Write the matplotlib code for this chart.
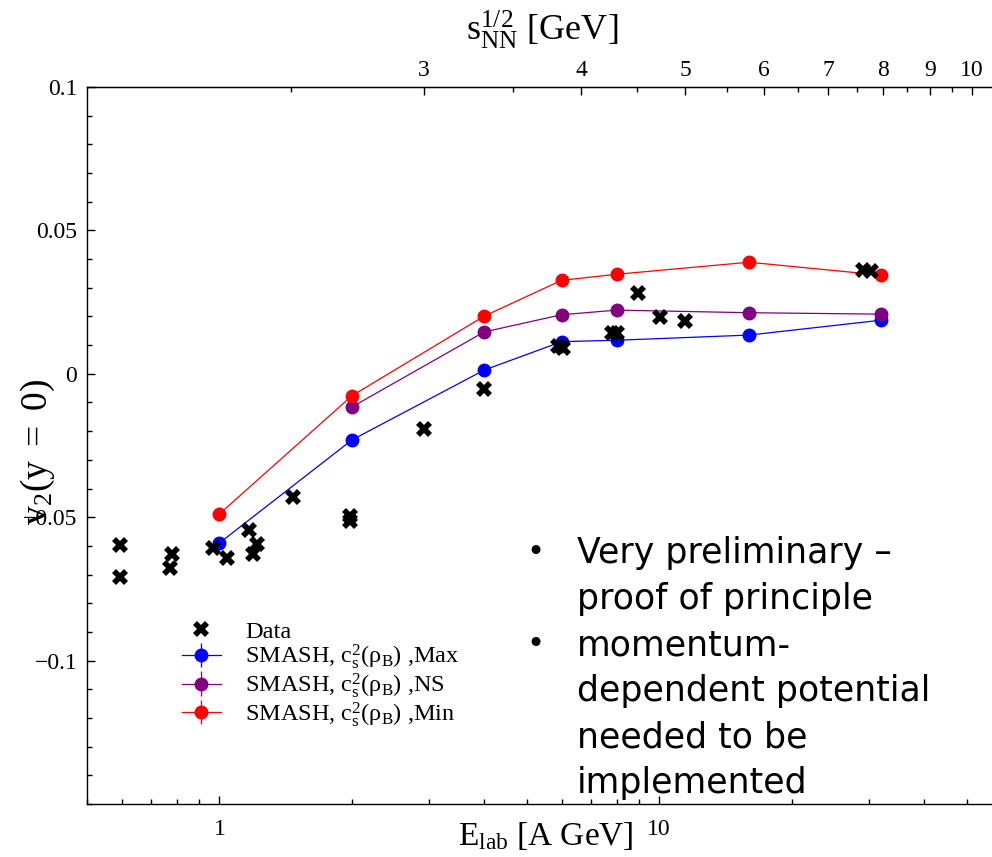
"""v2 at midrapidity vs beam energy: SMASH c_s^2 variants against data."""

import matplotlib

matplotlib.use("Agg")

import matplotlib.pyplot as plt
import numpy as np
from matplotlib.ticker import FixedLocator, NullFormatter

plt.rcParams["font.family"] = ["Liberation Serif", "DejaVu Serif"]
plt.rcParams["mathtext.fontset"] = "custom"
plt.rcParams["mathtext.rm"] = "Liberation Serif"
plt.rcParams["mathtext.it"] = "Liberation Serif:italic"
plt.rcParams["axes.unicode_minus"] = True

M_N = 0.938  # nucleon mass [GeV]

# measured data
data_elab = [0.593, 0.593, 0.781, 0.774, 0.967, 1.04, 1.166, 1.218, 1.19, 1.468,
             1.985, 1.985, 2.913, 4.0, 5.9, 6.05, 7.81, 8.0, 8.93, 10.05, 11.46,
             29.0, 30.3]
data_v2 = [-0.0598, -0.0708, -0.0629, -0.0676, -0.0607, -0.0642, -0.0545, -0.0595,
           -0.0630, -0.0429, -0.0497, -0.0512, -0.0191, -0.0053, 0.0097, 0.0091,
           0.0144, 0.0141, 0.0283, 0.0197, 0.0184, 0.0361, 0.0357]

# SMASH runs
max_elab = [1, 2, 4, 6, 8, 16, 32]
max_v2 = [-0.0590, -0.0231, 0.0013, 0.0112, 0.0117, 0.0135, 0.0187]
max_err = [0.0015, 0.0008, 0.0008, 0.0008, 0.0008, 0.0008, 0.0008]

ns_elab = [2, 4, 6, 8, 16, 32]
ns_v2 = [-0.0116, 0.0146, 0.0206, 0.0222, 0.0213, 0.0208]
ns_err = [0.0008, 0.0008, 0.0008, 0.0008, 0.0008, 0.0008]

min_elab = [1, 2, 4, 6, 8, 16, 32]
min_v2 = [-0.0489, -0.0077, 0.0201, 0.0326, 0.0347, 0.0389, 0.0344]
min_err = [0.0025, 0.0008, 0.0008, 0.0008, 0.0008, 0.0008, 0.0008]

y_ticks = [-0.1, -0.05, 0, 0.05, 0.1]
y_ticklabels = ["\u22120.1", "\u22120.05", "0", "0.05", "0.1"]
sqrt_s_ticks = [3, 4, 5, 6, 7, 8, 9, 10]
sqrt_s_minor = [2.5, 3.5, 4.5, 5.5, 6.5, 7.5, 8.5, 9.5]

bullet_lines = [
    ("Very preliminary \u2013", True),
    ("proof of principle", False),
    ("momentum-", True),
    ("dependent potential", False),
    ("needed to be", False),
    ("implemented", False),
]


def elab_to_sqrts(e):
    e = np.asarray(e, dtype=float)
    return np.sqrt(2 * M_N * (np.maximum(e, 1e-9) + 2 * M_N))


def sqrts_to_elab(s):
    s = np.asarray(s, dtype=float)
    return np.maximum(s**2 / (2 * M_N) - 2 * M_N, 1e-9)


W, H = 992, 857
fig = plt.figure(figsize=(W / 100, H / 100), dpi=100)
ax = fig.add_axes([87 / W, (H - 804) / H, 1 - 87 / W, (804 - 87) / H])

ax.set_xscale("log")
ax.set_xlim(0.5, 57.1)
ax.set_ylim(-0.15, 0.1)

series = [
    (max_elab, max_v2, max_err, "#0000ff", "Max"),
    (ns_elab, ns_v2, ns_err, "#800080", "NS"),
    (min_elab, min_v2, min_err, "#ff0000", "Min"),
]
handles = []
for xs, ys, errs, col, tag in series:
    h = ax.errorbar(xs, ys, yerr=errs, fmt="o-", color=col, ms=9, lw=0.9,
                    elinewidth=0.9, capsize=0, zorder=3,
                    label=r"SMASH, $\mathregular{c_s^2(ρ_B)}$ ," + tag)
    handles.append(h)

hd = ax.plot(data_elab, data_v2, "X", color="black", ms=11, mew=0,
             zorder=4, label="Data")[0]

ax.spines["right"].set_visible(False)
for sp in ("left", "bottom", "top"):
    ax.spines[sp].set_linewidth(1.0)

ax.set_yticks(y_ticks)
ax.set_yticklabels(y_ticklabels)
ax.yaxis.set_minor_locator(FixedLocator(np.arange(-0.15, 0.1001, 0.01)))
ax.set_xticks([1, 10])
ax.set_xticklabels(["1", "10"])
ax.xaxis.set_minor_formatter(NullFormatter())
ax.tick_params(which="both", direction="in", top=False, right=False,
               labelsize=17, width=1.0)
ax.tick_params(which="major", length=6)
ax.tick_params(which="minor", length=3.5)
ax.tick_params(axis="y", pad=7)
ax.tick_params(axis="x", pad=11)

sec = ax.secondary_xaxis("top", functions=(elab_to_sqrts, sqrts_to_elab))
sec.xaxis.set_major_locator(FixedLocator(sqrt_s_ticks))
sec.xaxis.set_minor_locator(FixedLocator(sqrt_s_minor))
sec.xaxis.set_minor_formatter(NullFormatter())
sec.set_xticklabels([str(t) for t in sqrt_s_ticks])
sec.tick_params(which="both", direction="in", labelsize=17, width=1.0, pad=4)
sec.tick_params(which="major", length=6)
sec.tick_params(which="minor", length=3.5)

fig.text(542 / W, 1 - 30 / H, r"$\mathregular{s_{NN}^{1/2}}$ [GeV]",
         fontsize=26, ha="center", va="center")
fig.text(546 / W, 1 - 836 / H, r"$\mathregular{E_{lab}}$ [A GeV]",
         fontsize=24, ha="center", va="center")
fig.text(38 / W, 1 - 452 / H, r"$\mathregular{v_2(y\ =\ 0)}$",
         fontsize=27, ha="center", va="center", rotation=90)

ax.legend([hd] + handles,
          ["Data"] + [h.get_label() for h in handles],
          loc="upper left", bbox_to_anchor=(172 / W, 1 - 611 / H),
          bbox_transform=fig.transFigure, frameon=False, fontsize=17.5,
          handlelength=1.6, handletextpad=1.0, labelspacing=0.0,
          borderaxespad=0)

baseline = 563
for text, bullet in bullet_lines:
    if bullet:
        fig.text(535 / W, 1 - (baseline - 10) / H, "\u2022", fontsize=22,
                 family="DejaVu Sans", ha="center", va="center")
    fig.text(577 / W, 1 - baseline / H, text, fontsize=25,
             family="DejaVu Sans", ha="left", va="baseline")
    baseline += 46

fig.savefig("out.png", dpi=100)
plt.close(fig)
